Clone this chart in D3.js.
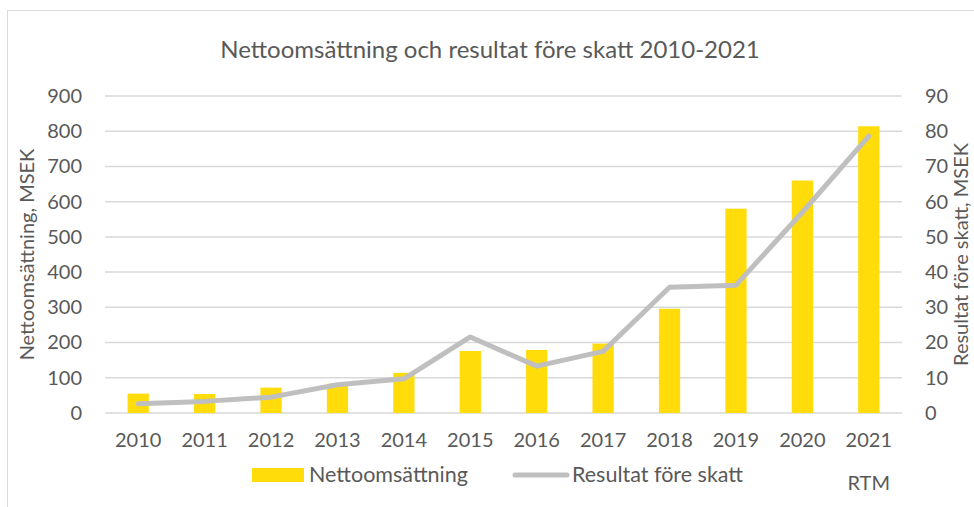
<!DOCTYPE html>
<html><head><meta charset="utf-8">
<script src="https://cdn.jsdelivr.net/npm/d3@7/dist/d3.min.js"></script>
<style>body{margin:0;background:#fff;} text{font-family:Lato,"Open Sans",sans-serif;fill:#595959;}</style>
</head><body>
<svg id="c" width="974" height="507"></svg>
<script>
const years = ["2010","2011","2012","2013","2014","2015","2016","2017","2018","2019","2020","2021"];
const netSales = [55, 54, 72, 83, 114, 176, 179, 197, 296, 580, 660, 814];
const profit = [2.6, 3.3, 4.5, 8.0, 9.7, 21.6, 13.3, 17.5, 35.7, 36.3, 57, 78.6];
const leftTicks = [0,100,200,300,400,500,600,700,800,900];
const rightTicks = [0,10,20,30,40,50,60,70,80,90];

const svg = d3.select("#c");
svg.append("rect").attr("x",7.5).attr("y",10.5).attr("width",1000).attr("height",600)
  .attr("fill","#fff").attr("stroke","#d9d9d9").attr("stroke-width",1);

const L=105, R=902, T=96, B=413;
const x = d3.scaleBand().domain(years).range([L,R]).paddingInner(0.68).paddingOuter(0.34);
const yL = d3.scaleLinear().domain([0,900]).range([B,T]);
const yR = d3.scaleLinear().domain([0,90]).range([B,T]);

// gridlines
svg.append("g").selectAll("line").data(leftTicks).join("line")
  .attr("x1",L).attr("x2",R).attr("y1",d=>yL(d)).attr("y2",d=>yL(d))
  .attr("stroke","#d9d9d9").attr("stroke-width",1.5);

// left axis
const ga = svg.append("g").attr("transform",`translate(${L},0)`)
  .call(d3.axisLeft(yL).tickValues(leftTicks).tickSize(0).tickPadding(23));
ga.select(".domain").remove();
ga.selectAll("text").style("font-size","20px").style("fill","#595959").style("font-family","Lato");

const gr = svg.append("g").attr("transform",`translate(${R},0)`)
  .call(d3.axisRight(yR).tickValues(rightTicks).tickSize(0).tickPadding(23));
gr.select(".domain").remove();
gr.selectAll("text").style("font-size","20px").style("fill","#595959").style("font-family","Lato");

// bars
svg.append("g").selectAll("rect").data(netSales).join("rect")
  .attr("x",(d,i)=>x(years[i])).attr("width",x.bandwidth())
  .attr("y",d=>yL(d)).attr("height",d=>B-yL(d)).attr("fill","#FFDC0A");

// line
const line = d3.line().x((d,i)=>x(years[i])+x.bandwidth()/2).y(d=>yR(d));
svg.append("path").datum(profit).attr("d",line).attr("fill","none")
  .attr("stroke","#BFBFBF").attr("stroke-width",5).attr("stroke-linecap","round").attr("stroke-linejoin","round");

// x axis labels
const gx = svg.append("g").attr("transform",`translate(0,${B})`)
  .call(d3.axisBottom(x).tickSize(0).tickPadding(20));
gx.select(".domain").remove();
gx.selectAll("text").style("font-size","20px").style("fill","#595959").style("font-family","Lato");
svg.append("text").attr("x",x("2021")+x.bandwidth()/2).attr("y",490).attr("text-anchor","middle")
  .style("font-size","20px").text("RTM");

// title
svg.append("text").attr("x",490).attr("y",58).attr("text-anchor","middle")
  .style("font-size","24px").text("Nettoomsättning och resultat före skatt 2010-2021");

// axis titles
svg.append("text").attr("transform",`translate(34,${(T+B)/2}) rotate(-90)`).attr("text-anchor","middle")
  .style("font-size","20px").text("Nettoomsättning, MSEK");
svg.append("text").attr("transform",`translate(968,${(T+B)/2}) rotate(-90)`).attr("text-anchor","middle")
  .style("font-size","20px").text("Resultat före skatt, MSEK");

// legend
svg.append("rect").attr("x",252).attr("y",468).attr("width",52).attr("height",14).attr("fill","#FFDC0A");
svg.append("text").attr("x",309).attr("y",482).style("font-size","21.5px").text("Nettoomsättning");
svg.append("line").attr("x1",515).attr("x2",567).attr("y1",475).attr("y2",475)
  .attr("stroke","#BFBFBF").attr("stroke-width",5).attr("stroke-linecap","round");
svg.append("text").attr("x",572).attr("y",482).style("font-size","21.5px").text("Resultat före skatt");
</script>
</body></html>
